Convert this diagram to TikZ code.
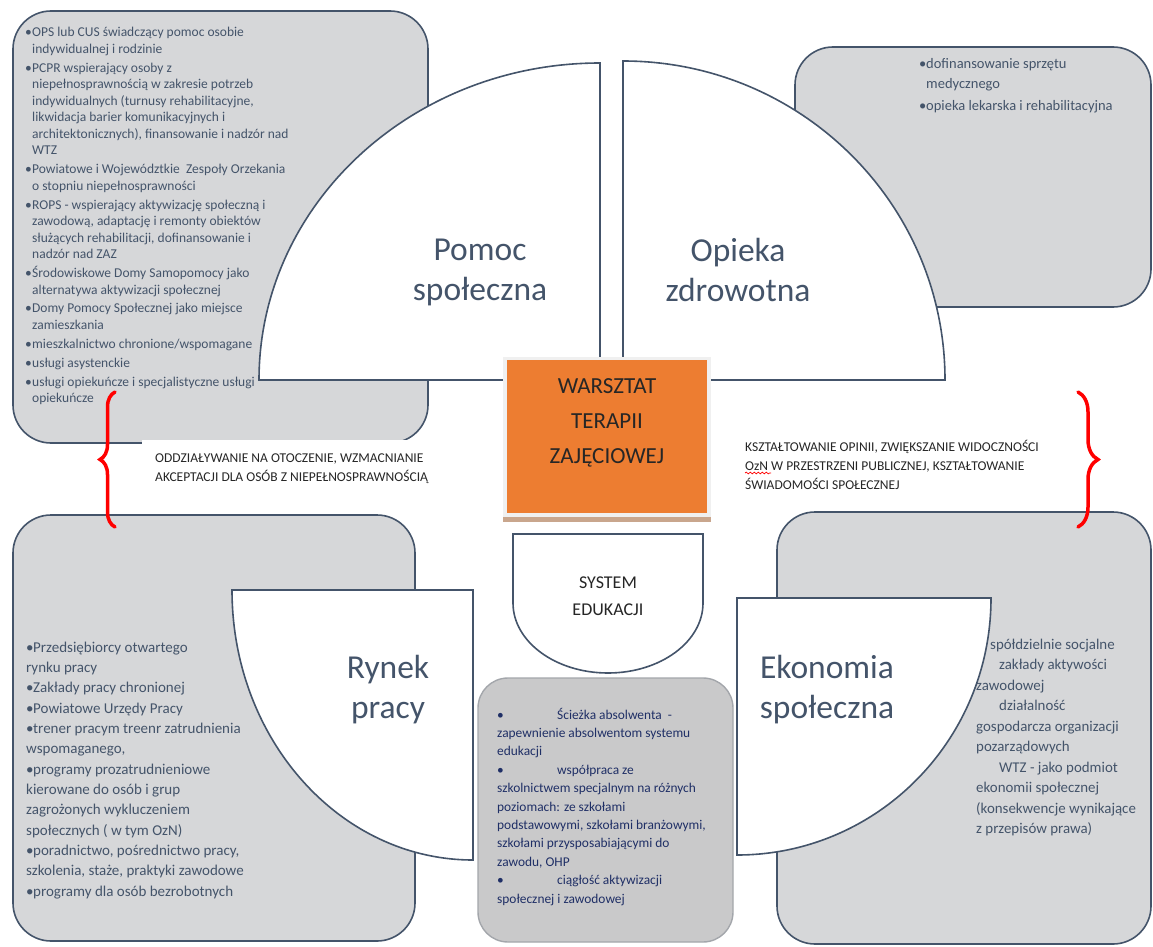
\documentclass[tikz,border=0pt]{standalone}
\usepackage{fontspec}
\setmainfont{Carlito}
\usetikzlibrary{decorations.pathreplacing,decorations.pathmorphing}

\definecolor{slate}{HTML}{44546A}
\definecolor{boxgray}{HTML}{D6D7D9}
\definecolor{pathgray}{HTML}{C9C9CA}
\definecolor{pathline}{HTML}{A3A6AB}
\definecolor{orng}{HTML}{ED7D31}
\definecolor{framegray}{HTML}{F0F0F0}
\definecolor{shadowbrn}{HTML}{C9A68D}
\definecolor{navy}{HTML}{1F2F66}
\definecolor{capgray}{HTML}{262626}
\definecolor{bracered}{HTML}{FF0000}

\newcommand{\itm}{\hangindent=7pt\hangafter=1\noindent\makebox[7pt][l]{\textbullet}}
\newcommand{\blt}{\makebox[7pt][l]{\textbullet}}
\newcommand{\listbox}[2]{\parbox[t]{#1}{\raggedright #2}}

\begin{document}
\begin{tikzpicture}
		[
			x=1pt, y=-1pt,
			gbox/.style = {draw=slate, line width=1.6pt, fill=boxgray, rounded corners=38pt},
			quart/.style = {draw=slate, line width=1.6pt, fill=white},
			lst/.style = {anchor=base west, inner sep=0pt, text=slate},
			title/.style = {align=center, inner sep=0pt, text=slate, font=\fontsize{33.5}{40}\selectfont},
			midlab/.style = {anchor=base west, inner sep=0pt, align=left, text=capgray, font=\fontsize{13.5}{19}\selectfont},
			brc/.style = {draw=bracered, line width=3.5pt, line cap=round, decorate, decoration={brace, amplitude=#1}},
		]

		\useasboundingbox (0,0) rectangle (1153,947);

		% gray boxes
		\draw[gbox] (13,11) rectangle (428,443);
		\draw[gbox] (795,47) rectangle (1151,307);
		\draw[gbox] (13,515) rectangle (415,941);
		\draw[gbox] (777,512) rectangle (1151,944);

		% lists
		\node[lst, font=\fontsize{13.5}{16.5}\selectfont] (tl) at (25,37)
			{\listbox{300pt}{\setlength{\parskip}{2.4pt}%
			 \itm OPS lub CUS świadczący pomoc osobie\newline indywidualnej i rodzinie\par
			 \itm PCPR wspierający osoby z\newline niepełnosprawnością w zakresie potrzeb\newline indywidualnych (turnusy rehabilitacyjne,\newline likwidacja barier komunikacyjnych i\newline architektonicznych), finansowanie i nadzór nad\newline WTZ\par
			 \itm Powiatowe i Województkie\ \ Zespoły Orzekania\newline o stopniu niepełnosprawności\par
			 \itm ROPS - wspierający aktywizację społeczną i\newline zawodową, adaptację i remonty obiektów\newline służących rehabilitacji, dofinansowanie i\newline nadzór nad ZAZ\par
			 \itm Środowiskowe Domy Samopomocy jako\newline alternatywa aktywizacji społecznej\par
			 \itm Domy Pomocy Społecznej jako miejsce\newline zamieszkania\par
			 \itm mieszkalnictwo chronione/wspomagane\par
			 \itm usługi asystenckie\par
			 \itm usługi opiekuńcze i specjalistyczne usługi\newline opiekuńcze}};
		\node[lst, font=\fontsize{14.5}{20}\selectfont] (tr) at (919,69)
			{\listbox{220pt}{\setlength{\parskip}{2pt}%
			 \itm dofinansowanie sprzętu\newline medycznego\par
			 \itm opieka lekarska i rehabilitacyjna}};
		\node[lst, font=\fontsize{15}{20.35}\selectfont] (bl) at (26,652)
			{\listbox{300pt}{\blt Przedsiębiorcy otwartego\\ rynku pracy\\
			 \blt Zakłady pracy chronionej\\
			 \blt Powiatowe Urzędy Pracy\\
			 \blt trener pracym treenr zatrudnienia\\ wspomaganego,\\
			 \blt programy prozatrudnieniowe\\ kierowane do osób i grup\\ zagrożonych wykluczeniem\\ społecznych ( w tym OzN)\\
			 \blt poradnictwo, pośrednictwo pracy,\\ szkolenia, staże, praktyki zawodowe\\
			 \blt programy dla osób bezrobotnych}};
		\node[lst, font=\fontsize{14.9}{20.5}\selectfont] (br) at (976,649)
			{\listbox{200pt}{\hspace*{14pt}spółdzielnie socjalne\\ \hspace*{23pt}zakłady aktywości\\ zawodowej\\
			 \hspace*{23pt}działalność\\ gospodarcza organizacji\\ pozarządowych\\
			 \hspace*{23pt}WTZ - jako podmiot\\ ekonomii społecznej\\ (konsekwencje wynikające\\ z przepisów prawa)}};

		% quarter shapes
		\draw[quart] (600,380) -- (259,380) arc[start angle=180, end angle=270, x radius=341, y radius=317] -- cycle;
		\draw[quart] (623,380) -- (623,61) arc[start angle=270, end angle=360, x radius=322, y radius=319] -- cycle;
		\draw[quart] (232,590) -- (473,590) -- (473,860) arc[start angle=90, end angle=180, x radius=241, y radius=270] -- cycle;
		\draw[quart] (737,855) -- (737,598) -- (991,598) arc[start angle=0, end angle=90, x radius=254, y radius=257] -- cycle;
		\draw[quart] (513,534) -- (703,534) -- (703,603) arc[start angle=0, end angle=180, x radius=95, y radius=70] -- cycle;

		\node[title] (pomoc) at (480,272) {Pomoc\\społeczna};
		\node[title] (opieka) at (738,270) {Opieka\\zdrowotna};
		\node[title] (rynek) at (388,690) {Rynek\\pracy};
		\node[title] (ekon) at (827,690) {Ekonomia\\społeczna};
		\node[align=center, inner sep=0pt, text=capgray, font=\fontsize{18}{27}\selectfont] (sysedu) at (608,596) {SYSTEM\\EDUKACJI};

		% center box
		\fill[framegray] (503,357) rectangle (711,517);
		\fill[shadowbrn] (503,517) rectangle (711,522);
		\fill[orng] (507,360) rectangle (707,513);
		\node[align=center, inner sep=0pt, text=capgray, font=\fontsize{23}{35}\selectfont] (wtz) at (607,423) {WARSZTAT\\TERAPII\\ZAJĘCIOWEJ};

		% labels and braces
		\fill[white] (142,440) rectangle (500,513);
		\node[midlab] (llab) at (155,481) {ODDZIAŁYWANIE NA OTOCZENIE, WZMACNIANIE\\AKCEPTACJI DLA OSÓB Z NIEPEŁNOSPRAWNOŚCIĄ};
		\node[midlab] (rlab) at (745,489) {KSZTAŁTOWANIE OPINII, ZWIĘKSZANIE WIDOCZNOŚCI\\OzN W PRZESTRZENI PUBLICZNEJ, KSZTAŁTOWANIE\\ŚWIADOMOŚCI SPOŁECZNEJ};
		\draw[red, line width=0.7pt, decorate, decoration={snake, amplitude=0.9pt, segment length=4pt}] (745,473) -- (771,473);
		\draw[brc=15, decoration={mirror}] (115,392) -- (115,527);
		\draw[brc=20] (1078,392) -- (1078,527);

		% education path box
		\draw[fill=pathgray, draw=pathline, line width=1.4pt, rounded corners=30pt] (478,678) rectangle (733,942);
		\node[lst, text=navy, font=\fontsize{13.4}{18.4}\selectfont] (sciezka) at (497,719)
			{\listbox{240pt}{\makebox[60pt][l]{\textbullet}Ścieżka absolwenta\ \ -\\ zapewnienie absolwentom systemu\\ edukacji\\
			 \makebox[60pt][l]{\textbullet}współpraca ze\\ szkolnictwem specjalnym na różnych\\ poziomach: ze szkołami\\ podstawowymi, szkołami branżowymi,\\ szkołami przysposabiającymi do\\ zawodu, OHP\\
			 \makebox[60pt][l]{\textbullet}ciągłość aktywizacji\\ społecznej i zawodowej}};

		\end{tikzpicture}
\end{document}
